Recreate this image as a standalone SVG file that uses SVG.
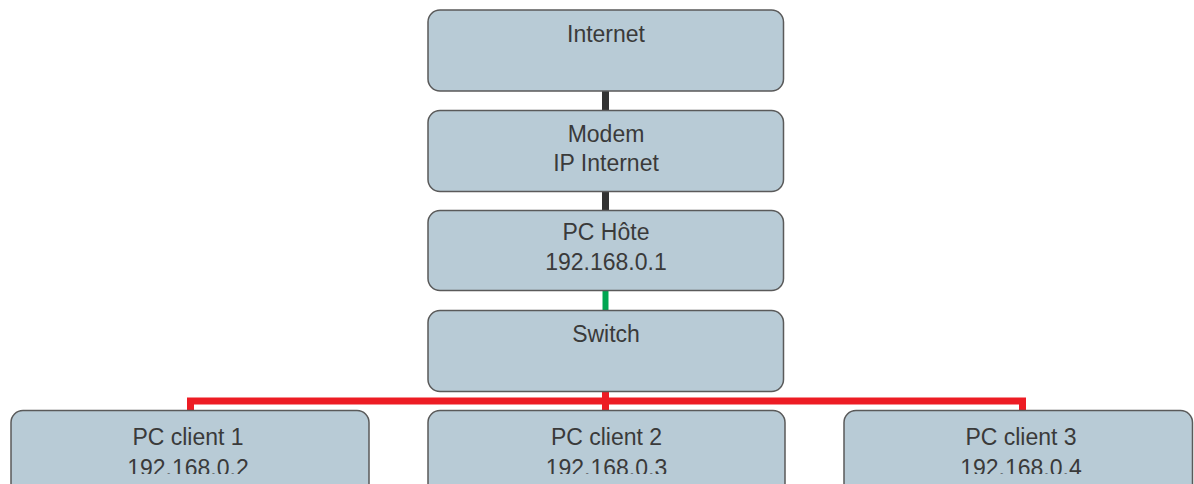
<svg xmlns="http://www.w3.org/2000/svg" width="1194" height="484" viewBox="0 0 1194 484">
<style>
.box{fill:#b8cbd6;stroke:#5a5a5a;stroke-width:1.5}
.t{font-family:"Liberation Sans",Arial,sans-serif;font-size:23px;fill:#3a3a3a;text-anchor:middle}
.k{stroke:#333333;stroke-width:7;fill:none}
.g{stroke:#00a651;stroke-width:6;fill:none}
.r{stroke:#ed1c24;stroke-width:7;fill:none}
</style>
<defs>
<clipPath id="cut"><rect x="0" y="0" width="1194" height="474"/></clipPath>
</defs>
<rect width="1194" height="484" fill="#ffffff"/>
<g id="connectors">
<line class="k" x1="605.5" y1="91" x2="605.5" y2="111"/>
<line class="k" x1="605.5" y1="191" x2="605.5" y2="211"/>
<line class="g" x1="605.5" y1="291" x2="605.5" y2="311"/>
<polyline class="r" points="190.5,411 190.5,401 1022.5,401 1022.5,411"/>
<line class="r" x1="605.5" y1="391" x2="605.5" y2="411"/>
</g>
<g id="internet">
<rect class="box" x="428" y="10" width="355.5" height="81" rx="12"/>
<text class="t" x="606" y="42">Internet</text>
</g>
<g id="modem">
<rect class="box" x="428" y="110.5" width="355.5" height="81" rx="12"/>
<text class="t" x="606" y="141.5">Modem</text>
<text class="t" x="606" y="170.5">IP Internet</text>
</g>
<g id="pchote">
<rect class="box" x="428" y="210.5" width="355.5" height="80" rx="12"/>
<text class="t" x="606" y="240">PC Hôte</text>
<text class="t" x="606" y="269.5">192.168.0.1</text>
</g>
<g id="switch">
<rect class="box" x="428" y="310.5" width="355.5" height="81" rx="12"/>
<text class="t" x="606" y="341.5">Switch</text>
</g>
<g id="client1">
<rect class="box" x="11" y="410.5" width="358" height="100" rx="12"/>
<text class="t" x="188" y="445">PC client 1</text>
<text class="t" x="188" y="475.5" clip-path="url(#cut)">192.168.0.2</text>
</g>
<g id="client2">
<rect class="box" x="428" y="410.5" width="357" height="100" rx="12"/>
<text class="t" x="606.5" y="445">PC client 2</text>
<text class="t" x="606.5" y="475.5" clip-path="url(#cut)">192.168.0.3</text>
</g>
<g id="client3">
<rect class="box" x="844" y="410.5" width="348.5" height="100" rx="12"/>
<text class="t" x="1021" y="445">PC client 3</text>
<text class="t" x="1021" y="475.5" clip-path="url(#cut)">192.168.0.4</text>
</g>
</svg>
